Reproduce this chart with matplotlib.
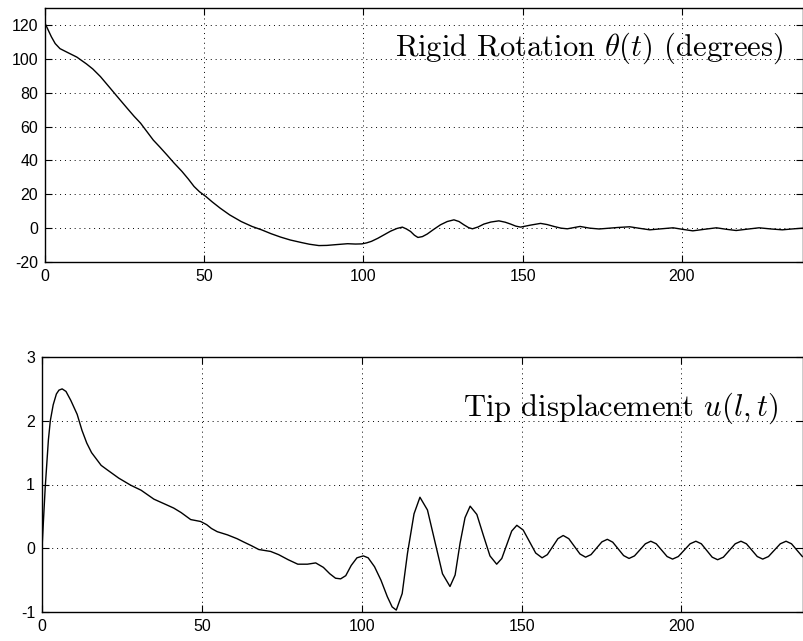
import matplotlib
matplotlib.use("Agg")
import matplotlib.pyplot as plt

# ---- data: rigid rotation theta(t) in degrees ----
theta_t = [0, 1, 2, 3.2, 4.7, 6.8, 10, 13, 15, 17.4, 20.5, 23, 25.8, 28, 30, 32, 34, 36,
           38.4, 40.5, 43, 45, 46.8, 48.5, 50.5, 52.5, 55, 58, 61.6, 65, 68, 71, 74, 77,
           80.5, 83, 86, 88.5, 91, 95, 97.5, 99.5, 101, 102.5, 104.5, 106.5, 108.5, 110.5,
           112.2, 113.5, 114.8, 116, 117.1, 118.5, 120, 122, 124.2, 126.3, 128.4, 130,
           131.5, 133, 134.2, 136, 137.8, 140, 142.5, 144.5, 146.2, 147.8, 149.3, 152.5,
           155.6, 157.7, 159.8, 162, 164, 166, 168, 171, 174, 176, 180, 183.6, 187, 189.9,
           193.5, 197.2, 200.5, 203.4, 207, 210.8, 214, 217, 220.5, 224.2, 228, 231.5,
           234.5, 238]
theta_v = [121, 117, 113, 109, 106, 104, 101, 97, 94, 89.5, 82.6, 77, 70.8, 66, 62, 57, 52,
           48, 43, 38.5, 33.5, 29, 24.6, 21.5, 18.7, 15.5, 11.8, 7.8, 3.9, 1, -1, -3.3,
           -5.3, -7, -8.5, -9.5, -10.3, -10.2, -9.8, -9.2, -9.4, -9.3, -8.7, -7.8, -6, -3.9,
           -1.8, -0.2, 0.6, -0.5, -2, -4.2, -5.5, -5, -3.5, -0.8, 2, 3.9, 4.9, 3.9, 2, 0.3,
           -0.4, 0.7, 2.4, 3.6, 4.3, 3.5, 2.4, 1.2, 0.6, 1.8, 2.8, 2.1, 1, 0, -0.4, 0.3,
           1.0, 0, -0.5, -0.2, 0.4, 0.8, -0.2, -1.0, -0.4, 0.2, -0.8, -1.6, -0.7, 0.2,
           -0.7, -1.4, -0.6, 0.2, -0.5, -1.0, -0.5, 0]

# ---- data: tip displacement u(l,t) ----
tip_t = [0, 1, 2, 2.6, 3.5, 4.5, 5.3, 6.3, 7.5, 9, 11, 12.5, 14, 15.5, 16.7, 18.5, 20.4,
         24, 27.7, 31, 35, 39, 41.2, 43.5, 46.5, 49.6, 51.5, 53, 54.8, 58, 61, 63, 65.5,
         67.8, 71.5, 74, 77, 80, 83, 85.6, 88, 90, 91.8, 93.4, 95, 96.7, 98.5, 100.5, 102,
         104, 106, 108, 109.5, 110.8, 112.65, 114.3, 116.35, 118.2, 120.55, 122.9, 125.25,
         127.6, 129.2, 130.75, 132.3, 133.9, 136, 138.05, 140.1, 142.2, 143.8, 145.35,
         146.9, 148.5, 150.5, 152.45, 154.4, 156.4, 158.05, 159.7, 161.35, 163, 164.75,
         166.5, 168.25, 170, 171.7, 173.4, 175.1, 176.8, 178.5, 180.2, 181.9, 183.6,
         185.3, 187, 188.7, 190.4, 192.1, 193.8, 195.5, 197.2, 199, 200.85, 202.7, 204.5,
         206.2, 207.9, 209.6, 211.3, 213.1, 214.95, 216.8, 218.6, 220.3, 222, 223.7,
         225.4, 227.2, 229.05, 230.9, 232.7, 234.4, 236.1, 237.8]
tip_v = [0.0, 0.95, 1.7, 2.0, 2.25, 2.42, 2.48, 2.5, 2.46, 2.32, 2.1, 1.85, 1.65, 1.5,
         1.42, 1.3, 1.23, 1.1, 0.99, 0.91, 0.77, 0.68, 0.63, 0.56, 0.45, 0.42, 0.37, 0.31,
         0.26, 0.21, 0.15, 0.1, 0.04, -0.02, -0.05, -0.1, -0.18, -0.25, -0.25, -0.23,
         -0.3, -0.4, -0.47, -0.48, -0.43, -0.27, -0.15, -0.12, -0.15, -0.29, -0.5, -0.76,
         -0.92, -0.97, -0.71, -0.08, 0.54, 0.80, 0.60, 0.10, -0.40, -0.60, -0.42, 0.08,
         0.48, 0.66, 0.53, 0.2, -0.12, -0.25, -0.16, 0.055, 0.27, 0.36, 0.285, 0.105,
         -0.075, -0.15, -0.10, 0.025, 0.15, 0.20, 0.15, 0.03, -0.09, -0.14, -0.10, 0.0,
         0.10, 0.14, 0.095, -0.01, -0.115, -0.16, -0.12, -0.025, 0.07, 0.11, 0.07, -0.03,
         -0.13, -0.17, -0.13, -0.03, 0.07, 0.11, 0.07, -0.035, -0.14, -0.18, -0.14,
         -0.035, 0.07, 0.11, 0.07, -0.03, -0.13, -0.17, -0.13, -0.03, 0.07, 0.11, 0.07,
         -0.03, -0.13]

x_ticks = [0, 50, 100, 150, 200]
theta_yticks = [-20, 0, 20, 40, 60, 80, 100, 120]
tip_yticks = [-1, 0, 1, 2, 3]
theta_label = r"Rigid Rotation $\theta(t)$ (degrees)"
tip_label = r"Tip displacement $u(l,t)$"

plt.rcParams['font.family'] = ['Liberation Sans', 'DejaVu Sans']
plt.rcParams['mathtext.fontset'] = 'cm'
plt.rcParams['axes.unicode_minus'] = False

W, H = 804, 641
fig = plt.figure(figsize=(W / 100, H / 100), dpi=100)

def px_rect(l, t, r, b):
    return [l / W, 1 - b / H, (r - l) / W, (b - t) / H]

ax1 = fig.add_axes(px_rect(45, 8, 803, 262))
ax2 = fig.add_axes(px_rect(42, 357, 803, 612))

for ax in (ax1, ax2):
    ax.set_xlim(0, 238)
    ax.set_xticks(x_ticks)
    ax.tick_params(direction='in', top=True, right=True, labelsize=11.5,
                   length=5, width=0.8, pad=5)
    ax.grid(True, linestyle=(0, (1, 4)), color='black', linewidth=0.7)
    for s in ax.spines.values():
        s.set_linewidth(1.0)

ax1.plot(theta_t, theta_v, color='black', linewidth=1.0)
ax1.set_ylim(-20, 130)
ax1.set_yticks(theta_yticks)

ax2.plot(tip_t, tip_v, color='black', linewidth=1.0)
ax2.set_ylim(-1, 3)
ax2.set_yticks(tip_yticks)

fig.text(783 / W, 1 - 48 / H, theta_label, family='cmr10', fontsize=22,
         ha='right', va='center')
fig.text(778 / W, 1 - 408 / H, tip_label, family='cmr10', fontsize=22,
         ha='right', va='center')

fig.savefig('out.png', dpi=100)
